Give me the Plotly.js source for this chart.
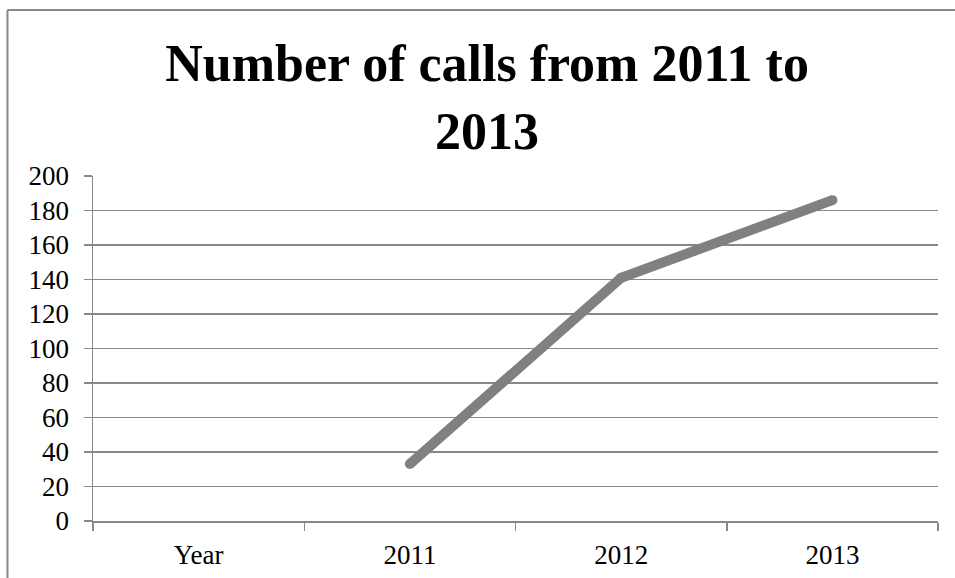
<!DOCTYPE html>
<html>
<head>
<meta charset="utf-8">
<script src="https://cdn.plot.ly/plotly-3.0.1.min.js"></script>
<style>html,body{margin:0;padding:0;background:#fff;}#chart{width:955px;height:578px;}</style>
</head>
<body>
<div id="chart"></div>
<script>
const categories = ["Year", "2011", "2012", "2013"];
const calls = [null, 33, 141, 186];
const yTicks = [0, 20, 40, 60, 80, 100, 120, 140, 160, 180, 200];

const L = 93, R = 17, T = 176, B = 57, W = 955, H = 578;
const pw = W - L - R, ph = H - T - B;
const px = v => (v - L) / pw;
const py = v => (H - B - v) / ph;

const trace = {
  x: categories,
  y: calls,
  type: "scatter",
  mode: "lines+markers",
  line: {color: "#808080", width: 10},
  marker: {color: "#808080", size: 10},
  connectgaps: false,
  hoverinfo: "x+y"
};

const layout = {
  width: W, height: H,
  margin: {l: L, r: R, t: T, b: B},
  paper_bgcolor: "#fff", plot_bgcolor: "#fff",
  showlegend: false,
  font: {family: "Liberation Serif, serif", color: "#000", size: 27},
  title: {
    text: "Number of calls from 2011 to<br>2013",
    font: {family: "Liberation Serif, serif", size: 52, color: "#000", weight: "bold"},
    x: 0.51, xanchor: "center",
    y: 0.86, yanchor: "top", yref: "container"
  },
  xaxis: {
    type: "category",
    range: [-0.5, 3.5],
    showgrid: false,
    showline: true, linecolor: "#888", linewidth: 1.5,
    ticks: "outside", tickson: "boundaries", ticklen: 8, tickcolor: "#888", tickwidth: 1.5,
    tickfont: {size: 27},
    ticklabelstandoff: 9,
    zeroline: false, fixedrange: true
  },
  yaxis: {
    range: [0, 200],
    tickvals: yTicks,
    ticktext: yTicks.map(String),
    showgrid: true, gridcolor: "#888", gridwidth: 1.5,
    showline: true, linecolor: "#888", linewidth: 1.5,
    ticks: "outside", ticklen: 8, tickcolor: "#888", tickwidth: 1.5,
    tickfont: {size: 27},
    ticklabelstandoff: 9,
    zeroline: false, fixedrange: true
  },
  shapes: [
    {type: "line", xref: "paper", yref: "paper", x0: px(7.5), x1: px(W + 5), y0: py(10), y1: py(10), line: {color: "#888", width: 2}},
    {type: "line", xref: "paper", yref: "paper", x0: px(7.5), x1: px(7.5), y0: py(10), y1: py(H + 5), line: {color: "#888", width: 2}}
  ]
};

Plotly.newPlot("chart", [trace], layout, {displayModeBar: false, staticPlot: true});
</script>
</body>
</html>
